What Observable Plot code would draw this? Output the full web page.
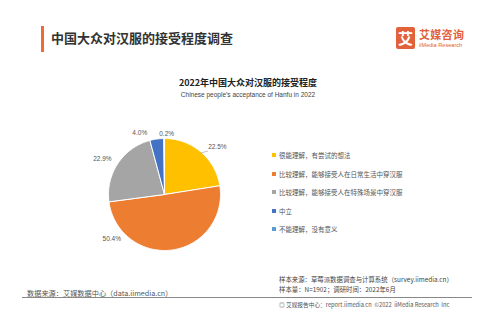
<!DOCTYPE html>
<html><head><meta charset="utf-8">
<script src="https://cdn.jsdelivr.net/npm/d3@7"></script>
<script src="https://cdn.jsdelivr.net/npm/@observablehq/plot@0.6"></script>
<style>
body{margin:0;background:#fff;font-family:"Noto Sans CJK SC","Noto Sans",sans-serif;}
#page{position:relative;width:496px;height:314px;overflow:hidden;background:#fff;}
.abs{position:absolute;white-space:nowrap;}
#bar{left:41px;top:26px;width:3px;height:26px;background:#f06a35;}
#title{left:51px;top:29px;font-size:13px;font-weight:700;color:#333;line-height:18px;}
#logo{left:396px;top:27px;width:19px;height:22px;background:#e2603a;border-radius:2px;color:#fff;font-size:15px;font-weight:700;text-align:center;line-height:22px;}
#logoT{left:419px;top:29px;font-size:11px;font-weight:700;color:#e2603a;line-height:11px;letter-spacing:0.3px;}
#logoS{left:419px;top:41.5px;font-size:5.6px;color:#e2603a;line-height:6px;font-family:"Liberation Sans",sans-serif;}
#ct{left:0;width:496px;text-align:center;top:76px;font-size:9px;font-weight:700;color:#222;line-height:13px;}
#cs{left:0;width:496px;text-align:center;top:90px;font-size:6.5px;color:#444;line-height:9px;font-family:"Liberation Sans","Noto Sans CJK SC",sans-serif;}
#legend{left:272px;top:146px;}
.li{display:flex;align-items:center;height:18.5px;font-size:6.5px;color:#555;}
.sw{width:4px;height:4px;margin-right:3px;}
#src{left:27px;top:288px;font-size:7.2px;color:#555;line-height:11px;}
#rule{left:22px;top:297px;width:450px;height:1px;background:#888;}
#s1{left:279px;top:275px;font-size:6.4px;color:#444;line-height:9px;}
#s2{left:279px;top:285px;font-size:6.4px;color:#444;line-height:9px;}
#s3{left:279px;top:299.5px;font-size:5.7px;color:#555;line-height:9px;}
</style></head>
<body><div id="page">
<div class="abs" id="bar"></div>
<div class="abs" id="title">中国大众对汉服的接受程度调查</div>
<div class="abs" id="logo">艾</div>
<div class="abs" id="logoT">艾媒咨询</div>
<div class="abs" id="logoS">iiMedia Research</div>
<div class="abs" id="ct">2022年中国大众对汉服的接受程度</div>
<div class="abs" id="cs">Chinese people’s acceptance of Hanfu in 2022</div>
<div class="abs" id="legend"></div>
<div class="abs" id="src">数据来源：艾媒数据中心（data.iimedia.cn）</div>
<div class="abs" id="rule"></div>
<div class="abs" id="s1">样本来源：草莓派数据调查与计算系统（survey.iimedia.cn）</div>
<div class="abs" id="s2">样本量：N=1902；调研时间：2022年6月</div>
<div class="abs" id="s3">◎ 艾媒报告中心：report.iimedia.cn &nbsp;©2022 &nbsp;iiMedia Research &nbsp;Inc</div>
</div>
<script>
const categories = [
  "很能理解，有尝试的想法",
  "比较理解，能够接受人在日常生活中穿汉服",
  "比较理解，能够接受人在特殊场景中穿汉服",
  "中立",
  "不能理解，没有意义"
];
const values = [22.5, 50.4, 22.9, 4.0, 0.2];
const labels = ["22.5%", "50.4%", "22.9%", "4.0%", "0.2%"];
const colors = ["#FFC000", "#ED7D31", "#A5A5A5", "#4472C4", "#5B9BD5"];

// label placement (angle in degrees clockwise from top, radius factor) — layout only
const labelAngle = [48, 230, 300, 338, 2];
const labelRadius = [1.27, 1.23, 1.28, 1.18, 1.09];

const total = d3.sum(values);
const rad = d => d * Math.PI / 180;
const polys = [];
let start = 0;
values.forEach((v, i) => {
  const a0 = start, a1 = start + v / total * 360;
  start = a1;
  polys.push({cat: categories[i], x: 0, y: 0, k: 0});
  const n = Math.max(2, Math.ceil((a1 - a0) / 1));
  for (let j = 0; j <= n; j++) {
    const a = rad(a0 + (a1 - a0) * j / n);
    polys.push({cat: categories[i], x: Math.sin(a), y: Math.cos(a), k: j + 1});
  }
  polys.push({cat: categories[i], x: 0, y: 0, k: n + 2});
});
const lab = labels.map((t, i) => ({
  t, x: labelRadius[i] * Math.sin(rad(labelAngle[i])), y: labelRadius[i] * Math.cos(rad(labelAngle[i]))
}));
const leader = [{x1: 0.98 * Math.sin(rad(41)), y1: 0.98 * Math.cos(rad(41)), x2: 1.1 * Math.sin(rad(45)), y2: 1.1 * Math.cos(rad(45))}];

const chart = Plot.plot({
  width: 496, height: 314,
  marginLeft: 108, marginRight: 276, marginTop: 138, marginBottom: 64,
  x: {domain: [-1, 1], axis: null},
  y: {domain: [-1, 1], axis: null},
  color: {domain: categories, range: colors},
  style: {background: "transparent", overflow: "visible"},
  marks: [
    Plot.line(polys, {x: "x", y: "y", z: "cat", fill: "cat", stroke: "#fff", strokeWidth: 1, curve: "linear-closed"}),
    Plot.link(leader, {x1: "x1", y1: "y1", x2: "x2", y2: "y2", stroke: "#999", strokeWidth: 0.6}),
    Plot.text(lab, {x: "x", y: "y", text: "t", fontSize: 6.5, fill: "#555", fontFamily: "Liberation Sans, sans-serif"})
  ]
});
chart.style.position = "absolute";
chart.style.left = "0px";
chart.style.top = "0px";
document.getElementById("page").appendChild(chart);

const lg = document.getElementById("legend");
categories.forEach((c, i) => {
  const d = document.createElement("div");
  d.className = "li";
  d.innerHTML = `<span class="sw" style="background:${colors[i]}"></span>${c}`;
  lg.appendChild(d);
});
</script>
</body></html>
